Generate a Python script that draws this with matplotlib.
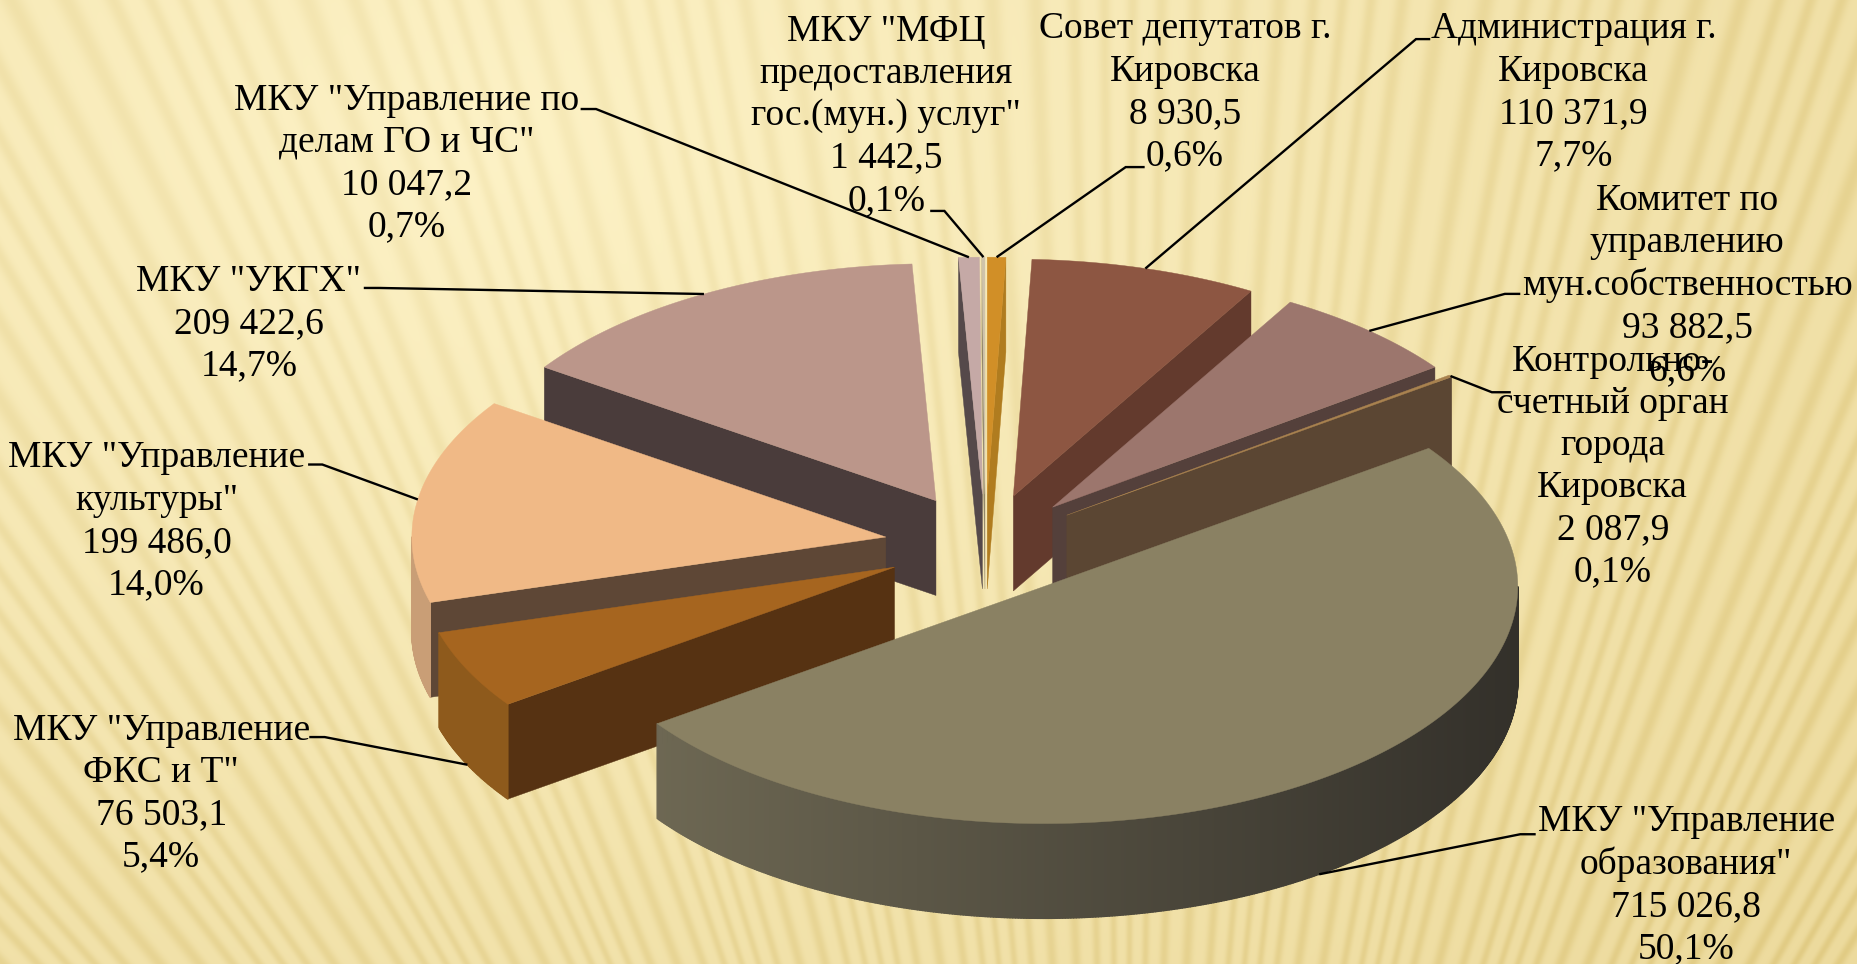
import numpy as np
import matplotlib
matplotlib.use("Agg")
import matplotlib.pyplot as plt
from matplotlib.colors import to_rgb
from matplotlib.collections import PolyCollection
from matplotlib.patches import Polygon

plt.rcParams["font.family"] = ["Liberation Serif", "DejaVu Serif"]

names = [
    'Совет депутатов г.\nКировска',
    'Администрация г.\nКировска',
    'Комитет по\nуправлению\nмун.собственностью',
    'Контрольно-\nсчетный орган\nгорода\nКировска',
    'МКУ "Управление\nобразования"',
    'МКУ "Управление\nФКС и Т"',
    'МКУ "Управление\nкультуры"',
    'МКУ "УКГХ"',
    'МКУ "Управление по\nделам ГО и ЧС"',
    'МКУ "МФЦ\nпредоставления\nгос.(мун.) услуг"',
]
values = [8930.5, 110371.9, 93882.5, 2087.9, 715026.8, 76503.1, 199486.0, 209422.6, 10047.2, 1442.5]

top_colors = ["#d18f27", "#8d5642", "#9c766d", "#a9824f", "#8a8163", "#a6651f", "#f0b986", "#bb968a", "#c5a9a6", "#cfc3aa"]
wall_colors = ["#b07c1f", "#633a2d", "#54403b", "#5b4633", "#5c5644", "#563212", "#5e4736", "#4a3c3b", "#55494a", "#8f8468"]
rim_left = ["#b07c1f", "#74483a", "#7a5c55", "#6b5238", "#736d57", "#8e5a1c", "#c99e76", "#9c7d72", "#a08a87", "#a89c86"]
rim_right = ["#b07c1f", "#74483a", "#7a5c55", "#6b5238", "#33302a", "#8e5a1c", "#c99e76", "#9c7d72", "#a08a87", "#a89c86"]

# label centre (x, y) and leader path from the text towards the slice, in 1568-wide picture units
label_xy = [(1000, 78), (1328, 78), (1424, 241), (1361, 394), (1423, 747),
            (136, 670), (132, 440), (210, 273), (343, 138), (748, 98)]
leader_xy = [
    [(966, 141), (950, 141)],
    [(1207, 33), (1195, 33)],
    [(1283, 248), (1270, 248)],
    [(1275, 331), (1259, 331)],
    [(1296, 704), (1283, 704)],
    [(261, 622), (274, 622)],
    [(260, 392), (272, 392)],
    [(307, 243), (320, 243)],
    [(490, 92), (503, 92)],
    [(785, 178), (797, 178)],
]

W, H = 1568, 813.5
cx, cy = 831.5, 460
rx, ry = 400, 200
ex, ey = 85, 43
depth = 80

fig = plt.figure(figsize=(18.58, 9.64), dpi=100)
ax = fig.add_axes([0, 0, 1, 1])
ax.set_xlim(0, W)
ax.set_ylim(H, 0)
ax.axis("off")

# background: pale cream with a fan of soft stripes, darker towards the lower right
xx, yy = np.meshgrid(np.linspace(0, W, 1858), np.linspace(0, H, 964))
fan = np.arctan2(xx - 950, 1800 - yy)
stripes = 0.5 + 0.5 * np.sin(fan * 390 + 1.5 * np.sin(fan * 60))
stripes = stripes ** 2
dist = np.hypot((xx - 420) / 1500, (yy - 120) / 1000)
shade = np.clip(dist, 0, 1)
light = np.array(to_rgb("#fdf2c6"))
dark = np.array(to_rgb("#eddb9e"))
bg = light + (dark - light) * shade[..., None]
bg = bg - stripes[..., None] * np.array([0.045, 0.06, 0.10]) * (0.5 + 0.5 * shade[..., None])
ax.imshow(np.clip(bg, 0, 1), extent=(0, W, H, 0), aspect="auto", zorder=0, interpolation="bilinear")

total = sum(values)
edges = np.cumsum([0] + values) / total * 360


def rim_point(apex, deg):
    t = np.radians(deg)
    return apex[0] + rx * np.sin(t), apex[1] - ry * np.cos(t)


def apex_of(i):
    t = np.radians((edges[i] + edges[i + 1]) / 2)
    return cx + ex * np.sin(t), cy - ey * np.cos(t)


def wall_shows(apex, deg, mid_deg):
    px, py = rim_point(apex, deg)
    mx, my = rim_point(apex, mid_deg)
    if abs(px - apex[0]) < 1e-6:
        return False
    return my < apex[1] + (mx - apex[0]) * (py - apex[1]) / (px - apex[0])


order = sorted(range(len(values)), key=lambda k: apex_of(k)[1])
z = 2
for i in order:
    apex = apex_of(i)
    a0, a1 = edges[i], edges[i + 1]
    mid = (a0 + a1) / 2

    # flat cut faces
    for deg in (a0, a1):
        if wall_shows(apex, deg, mid):
            px, py = rim_point(apex, deg)
            ax.add_patch(Polygon([apex, (px, py), (px, py + depth), (apex[0], apex[1] + depth)],
                                 closed=True, fc=wall_colors[i], ec=wall_colors[i], lw=0.3, zorder=z))
            z += 1

    # curved outer side, only the part turned to the viewer
    lo, hi = max(a0, 90), min(a1, 270)
    if hi > lo:
        steps = np.linspace(lo, hi, max(int(hi - lo) * 3, 2) + 1)
        quads, cols = [], []
        c_l, c_r = np.array(to_rgb(rim_left[i])), np.array(to_rgb(rim_right[i]))
        for d0, d1 in zip(steps[:-1], steps[1:]):
            p0, p1 = rim_point(apex, d0), rim_point(apex, d1)
            quads.append([p0, p1, (p1[0], p1[1] + depth), (p0[0], p0[1] + depth)])
            frac = (p0[0] - apex[0] + rx) / (2 * rx)
            cols.append(c_l + (c_r - c_l) * frac)
        ax.add_collection(PolyCollection(quads, facecolors=cols, edgecolors=cols, linewidths=1.0, zorder=z))
        z += 1

    # top surface
    arc = [rim_point(apex, d) for d in np.linspace(a0, a1, max(int(a1 - a0), 2) + 1)]
    ax.add_patch(Polygon([apex] + arc, closed=True, fc=top_colors[i], ec=top_colors[i], lw=0.3, zorder=z))
    z += 1

# leader lines and labels
for i, name in enumerate(names):
    apex = apex_of(i)
    mid = (edges[i] + edges[i + 1]) / 2
    end = rim_point(apex, mid)
    if np.cos(np.radians(mid)) < 0:
        end = (end[0], end[1] + depth)
    path = leader_xy[i] + [end]
    ax.plot([p[0] for p in path], [p[1] for p in path], color="black", lw=1.7, zorder=200,
            solid_capstyle="butt", solid_joinstyle="miter")
    val = f"{values[i]:,.1f}".replace(",", " ").replace(".", ",")
    pct = f"{values[i] / total * 100:.1f}".replace(".", ",") + "%"
    ax.text(label_xy[i][0], label_xy[i][1], f"{name}\n{val}\n{pct}", ha="center", va="center",
            ma="center", fontsize=27, linespacing=1.29, color="black", zorder=300)

fig.savefig("out.png", dpi=100)
